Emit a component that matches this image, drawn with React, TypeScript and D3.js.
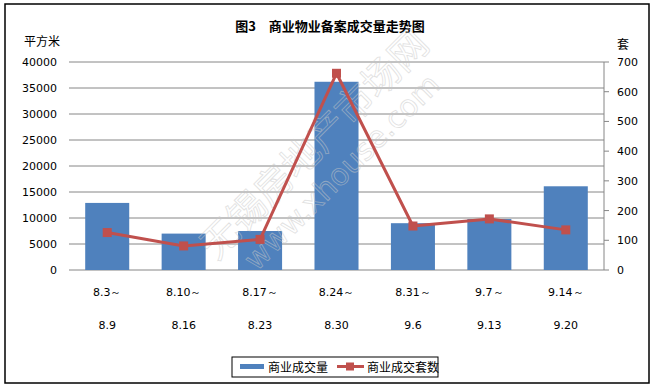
import React from 'react';
import * as d3 from 'd3';

const periodStart = ['8.3～', '8.10～', '8.17～', '8.24～', '8.31～', '9.7～', '9.14～'];
const periodEnd = ['8.9', '8.16', '8.23', '8.30', '9.6', '9.13', '9.20'];
const areaValues = [12900, 7000, 7500, 36200, 9000, 9800, 16100];
const countValues = [126, 81, 103, 662, 148, 172, 135];
const leftTicks = [0, 5000, 10000, 15000, 20000, 25000, 30000, 35000, 40000];
const rightTicks = [0, 100, 200, 300, 400, 500, 600, 700];

const W = 656;
const H = 390;
const margin = { left: 69, right: 52, top: 62, bottom: 120 };
const cjk = '"Noto Sans CJK SC", sans-serif';
const num = '"DejaVu Sans", sans-serif';

export default function App() {
  const x = d3.scaleBand<number>()
    .domain(d3.range(periodStart.length))
    .range([margin.left, W - margin.right])
    .paddingInner(0.424)
    .paddingOuter(0.212);
  const yL = d3.scaleLinear().domain([0, 40000]).range([H - margin.bottom, margin.top]);
  const yR = d3.scaleLinear().domain([0, 700]).range([H - margin.bottom, margin.top]);
  const cx = (i: number) => (x(i) as number) + x.bandwidth() / 2;

  const line = d3.line<number>()
    .x((d, i) => cx(i))
    .y((d) => yR(d));

  const x0 = margin.left;
  const x1 = W - margin.right;

  return (
    <svg width={W} height={H} style={{ position: 'absolute', left: 0, top: 0 }}>
      <rect x={0} y={0} width={W} height={H} fill="#fff" />
      <rect x={5} y={4} width={644} height={379} fill="none" stroke="#000" strokeWidth={1.5} />

      <text x={330} y={31} textAnchor="middle" fontFamily={cjk} fontWeight="bold" fontSize={13}>
        图3　商业物业备案成交量走势图
      </text>
      <text x={42} y={46} textAnchor="middle" fontFamily={cjk} fontSize={12}>平方米</text>
      <text x={623} y={49} textAnchor="middle" fontFamily={cjk} fontSize={12}>套</text>

      {/* gridlines + left labels */}
      {leftTicks.map((t) => (
        <g key={t}>
          <line x1={x0} x2={x1} y1={yL(t)} y2={yL(t)} stroke="#868686" strokeWidth={1} />
          <text x={57} y={yL(t) + 4} textAnchor="end" fontFamily={num} fontSize={11}>{t}</text>
        </g>
      ))}

      {/* right axis */}
      <line x1={x1} x2={x1} y1={yR(0)} y2={yR(700)} stroke="#868686" strokeWidth={1} />
      {rightTicks.map((t) => (
        <g key={t}>
          <line x1={x1} x2={x1 + 5} y1={yR(t)} y2={yR(t)} stroke="#868686" strokeWidth={1} />
          <text x={617} y={yR(t) + 4} textAnchor="start" fontFamily={num} fontSize={11}>{t}</text>
        </g>
      ))}

      {/* bars */}
      {areaValues.map((v, i) => (
        <rect key={i} x={x(i)} width={x.bandwidth()} y={yL(v)} height={yL(0) - yL(v)} fill="#4F81BD" />
      ))}

      {/* watermark */}
      <g transform="translate(328,158) rotate(-45)" opacity={0.55}>
        <text x={0} y={-6} textAnchor="middle" fontFamily={cjk} fontSize={38} fill="none" stroke="#c8c8c8" strokeWidth={0.8}>
          无锡房地产市场网
        </text>
        <text x={0} y={30} textAnchor="middle" fontFamily={num} fontSize={30} fill="none" stroke="#c8c8c8" strokeWidth={0.8}>
          www.xhouse.com
        </text>
      </g>

      {/* line */}
      <path d={line(countValues) || ''} fill="none" stroke="#C0504D" strokeWidth={3} strokeLinejoin="round" />
      {countValues.map((v, i) => (
        <rect key={i} x={cx(i) - 4.5} y={yR(v) - 4.5} width={9} height={9} fill="#C0504D" />
      ))}

      {/* categories */}
      {periodStart.map((s, i) => (
        <g key={s}>
          <text x={cx(i)} y={296} textAnchor="middle" fontFamily={num} fontSize={11}>{s}</text>
          <text x={cx(i)} y={329} textAnchor="middle" fontFamily={num} fontSize={11}>{periodEnd[i]}</text>
        </g>
      ))}

      {/* legend */}
      <rect x={232} y={357} width={206} height={20} fill="#fff" stroke="#000" strokeWidth={1} />
      <rect x={240} y={364} width={24} height={5} fill="#4F81BD" />
      <text x={268} y={372} fontFamily={cjk} fontSize={12}>商业成交量</text>
      <line x1={337} x2={364} y1={366.5} y2={366.5} stroke="#C0504D" strokeWidth={3} />
      <rect x={346} y={362.5} width={8} height={8} fill="#C0504D" />
      <text x={367} y={372} fontFamily={cjk} fontSize={12}>商业成交套数</text>
    </svg>
  );
}
